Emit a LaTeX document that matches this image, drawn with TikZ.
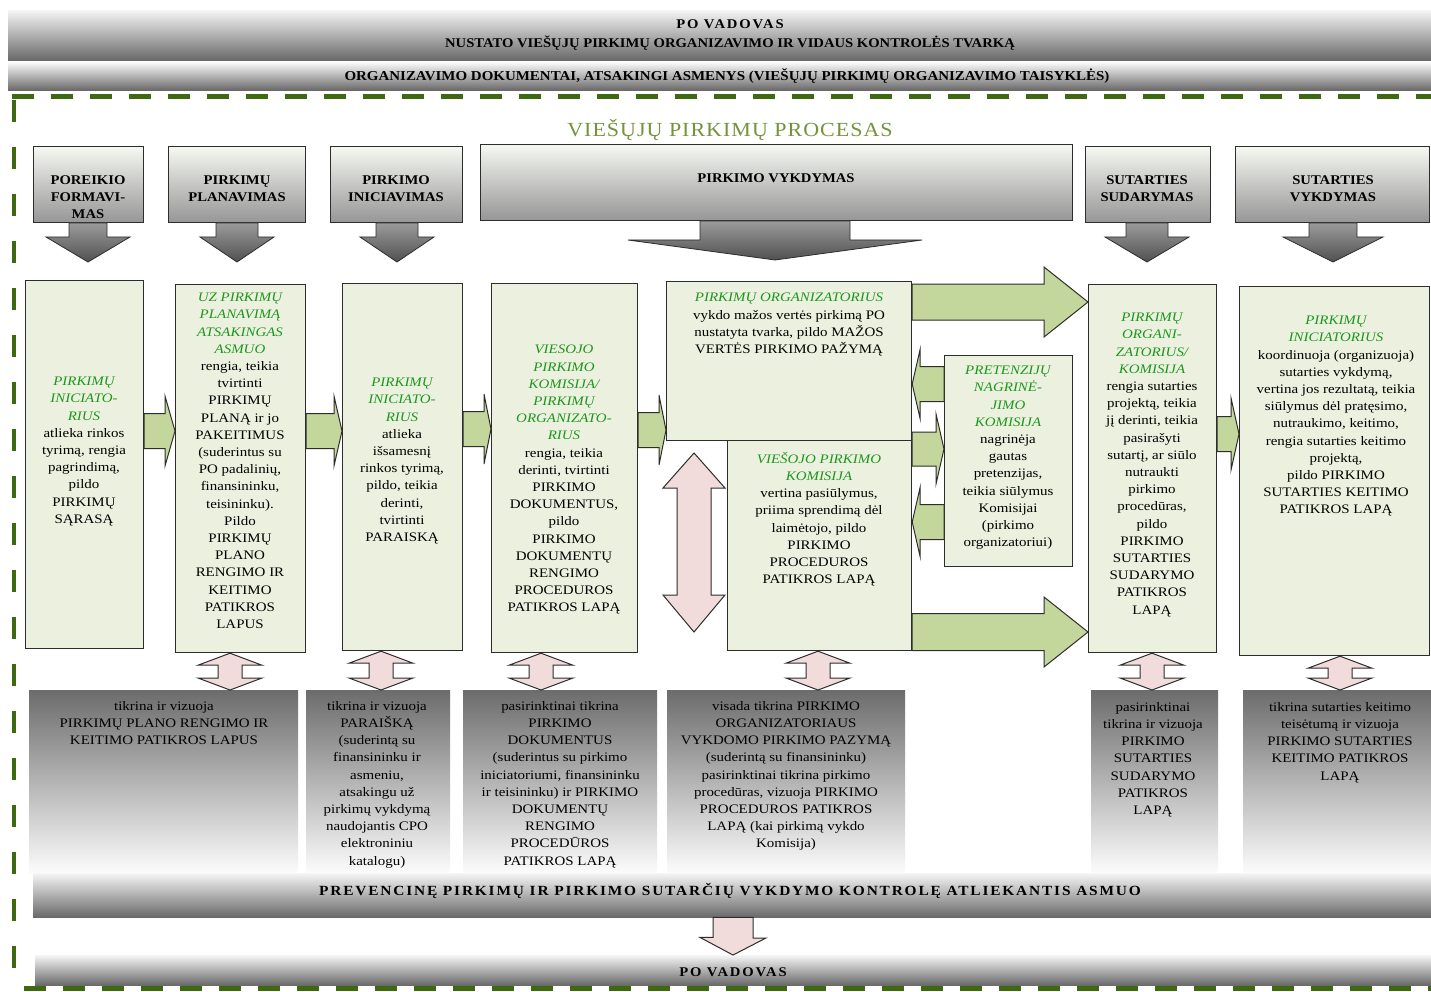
\documentclass[tikz,border=0pt]{standalone}
\usepackage{fontspec}
\setmainfont{Liberation Serif}[FakeStretch=1.1]
\newfontfamily\bodyfam{Liberation Serif}[FakeStretch=1.15]
\usetikzlibrary{calc}
\definecolor{gfill}{RGB}{235,241,222}
\definecolor{garr}{RGB}{195,214,155}
\definecolor{pfill}{RGB}{242,220,219}
\definecolor{tgreen}{RGB}{30,150,30}
\definecolor{olive}{RGB}{118,146,60}
\definecolor{dgreen}{RGB}{62,105,18}
\definecolor{edge}{RGB}{45,45,45}
\definecolor{phtop}{RGB}{246,248,242}
\definecolor{phbot}{RGB}{150,150,150}
\definecolor{datop}{RGB}{155,155,155}
\definecolor{dabot}{RGB}{80,80,80}
\definecolor{gbtop}{RGB}{108,108,108}
\definecolor{gbbot}{RGB}{252,252,252}
\definecolor{bartop}{RGB}{245,245,245}
\definecolor{barbot}{RGB}{105,105,105}
\newcommand\gr[1]{{\color{tgreen}\itshape #1}}
\newcommand\bodyf{\bodyfam\fontsize{13}{17.2}\selectfont}
\newcommand\hdrf{\fontsize{13.3}{17}\selectfont\bfseries}
% green block arrow pointing right: from, to, yc, shaft half, head half, head length
\newcommand\garR[6]{\draw[garrow] ($(#1.east|-0,#3)+(0,-#4)$) -- ($(#2.west|-0,#3)+(-#6,-#4)$) -- ($(#2.west|-0,#3)+(-#6,-#5)$) -- (#2.west|-0,#3) -- ($(#2.west|-0,#3)+(-#6,#5)$) -- ($(#2.west|-0,#3)+(-#6,#4)$) -- ($(#1.east|-0,#3)+(0,#4)$) -- cycle;}
% green block arrow pointing left: from (right node), to (left node), ...
\newcommand\garL[6]{\draw[garrow] ($(#1.west|-0,#3)+(0,-#4)$) -- ($(#2.east|-0,#3)+(#6,-#4)$) -- ($(#2.east|-0,#3)+(#6,-#5)$) -- (#2.east|-0,#3) -- ($(#2.east|-0,#3)+(#6,#5)$) -- ($(#2.east|-0,#3)+(#6,#4)$) -- ($(#1.west|-0,#3)+(0,#4)$) -- cycle;}
% pink vertical double arrow: top node, bottom node, x
\newcommand\pdar[3]{\draw[parrow] (#3,0|-#1.south) -- ++(32,12) -- ++(-20,0) -- ($(#3,0|-#2.north)+(12,-12)$) -- ++(20,0) -- (#3,0|-#2.north) -- ++(-32,-12) -- ++(20,0) -- ($(#3,0|-#1.south)+(-12,12)$) -- ++(-20,0) -- cycle;}
% gray down arrow: node, x, shaft half, head half, head top y, tip y
\newcommand\gdar[6]{\draw[darrow] ($(#2,0|-#1.south)+(-#3,0)$) -- (#2-#3,#5) -- (#2-#4,#5) -- (#2,#6) -- (#2+#4,#5) -- (#2+#3,#5) -- ($(#2,0|-#1.south)+(#3,0)$) -- cycle;}
\tikzset{
 gbox/.style={draw=edge, line width=1.2pt, fill=gfill, anchor=north west, inner sep=0pt},
 phbox/.style={draw=edge, line width=1pt, top color=phtop, bottom color=phbot, anchor=north west, inner sep=0pt},
 graybox/.style={top color=gbtop, bottom color=gbbot, anchor=north west, inner sep=0pt},
 bar/.style={top color=bartop, bottom color=barbot, anchor=north west, inner sep=0pt},
 txt/.style={inner sep=0pt, align=center, anchor=north, font=\bodyf, yshift=-4pt},
 hdr/.style={inner sep=0pt, align=center, font=\hdrf},
 garrow/.style={draw=edge, line width=1pt, fill=garr, line join=miter},
 parrow/.style={draw=edge, line width=1pt, fill=pfill, line join=miter},
 darrow/.style={draw=edge, line width=0.8pt, top color=datop, bottom color=dabot},
 dashtop/.style={draw=dgreen, line width=5pt, dash pattern=on 22pt off 17pt},
 dashleft/.style={draw=dgreen, line width=4pt, dash pattern=on 22pt off 25pt},
}
\begin{document}
\begin{tikzpicture}[x=1pt,y=-1pt]
\useasboundingbox (0,0) rectangle (1431,992);
\fill[white] (0,0) rectangle (1431,992);

% top bars
\node[bar, minimum width=1423pt, minimum height=50pt] (vad1) at (8,10) {};
\node[hdr, font=\fontsize{13.3}{19}\selectfont\bfseries] (vad1t) at (730,34.5) {{\addfontfeature{LetterSpace=14}PO VADOVAS}\\NUSTATO VIEŠŲJŲ PIRKIMŲ ORGANIZAVIMO IR VIDAUS KONTROLĖS TVARKĄ};
\node[bar, minimum width=1423pt, minimum height=27pt] (org) at (8,63) {};
\node[hdr, font=\fontsize{13.6}{17}\selectfont\bfseries] (orgt) at (727,76) {ORGANIZAVIMO DOKUMENTAI, ATSAKINGI ASMENYS (VIEŠŲJŲ PIRKIMŲ ORGANIZAVIMO TAISYKLĖS)};

% frame
\draw[dashtop] (12,97) -- (1431,97);
\draw[dashleft] (14,100) -- (14,990);
\draw[dashtop] (24,988) -- (1431,988);

% title
\node[font=\fontsize{20}{24}\selectfont\addfontfeature{LetterSpace=5}, text=olive, inner sep=0pt] (title) at (730,130) {VIEŠŲJŲ PIRKIMŲ PROCESAS};

% phase boxes
\node[phbox, minimum width=110pt, minimum height=76pt] (p1) at (33,146) {};
\node[phbox, minimum width=137pt, minimum height=76pt] (p2) at (168,146) {};
\node[phbox, minimum width=132pt, minimum height=76pt] (p3) at (330,146) {};
\node[phbox, minimum width=592pt, minimum height=76pt] (p4) at (480,144) {};
\node[phbox, minimum width=125pt, minimum height=76pt] (p5) at (1085,146) {};
\node[phbox, minimum width=194pt, minimum height=76pt] (p6) at (1235,146) {};
\node[hdr] (p1t) at (88,197) {POREIKIO\\FORMAVI-\\MAS};
\node[hdr] (p2t) at (237,189) {PIRKIMŲ\\PLANAVIMAS};
\node[hdr] (p3t) at (396,189) {PIRKIMO\\INICIAVIMAS};
\node[hdr] (p4t) at (776,178) {PIRKIMO VYKDYMAS};
\node[hdr] (p5t) at (1147,189) {SUTARTIES\\SUDARYMAS};
\node[hdr] (p6t) at (1333,189) {SUTARTIES\\VYKDYMAS};
\gdar{p1}{88}{19}{42}{237}{262}
\gdar{p2}{237}{21}{37}{237}{262}
\gdar{p3}{397}{21}{37}{237}{262}
\gdar{p4}{775}{75}{147}{240}{260}
\gdar{p5}{1147}{21}{42}{237}{262}
\gdar{p6}{1333}{24}{50}{237}{262}

% green boxes
\node[gbox, minimum width=118pt, minimum height=368pt] (b1) at (25,280) {};
\node[gbox, minimum width=130pt, minimum height=368pt] (b2) at (175,284) {};
\node[gbox, minimum width=120pt, minimum height=367pt] (b3) at (342,283) {};
\node[gbox, minimum width=146pt, minimum height=369pt] (b4) at (491,283) {};
\node[gbox, minimum width=245pt, minimum height=159pt] (b5) at (666,281) {};
\node[gbox, minimum width=184pt, minimum height=210pt] (b6) at (727,440) {};
\node[gbox, minimum width=128pt, minimum height=211pt] (b7) at (944,355) {};
\node[gbox, minimum width=128pt, minimum height=368pt] (b8) at (1088,284) {};
\node[gbox, minimum width=190pt, minimum height=369pt] (b9) at (1239,286) {};

\node[txt] (t1) at (84,373) {\gr{PIRKIMŲ}\\\gr{INICIATO-}\\\gr{RIUS}\\atlieka rinkos\\tyrimą, rengia\\pagrindimą,\\pildo\\PIRKIMŲ\\SĄRASĄ};
\node[txt] (t2) at (240,289) {\gr{UZ PIRKIMŲ}\\\gr{PLANAVIMĄ}\\\gr{ATSAKINGAS}\\\gr{ASMUO}\\rengia, teikia\\tvirtinti\\PIRKIMŲ\\PLANĄ ir jo\\PAKEITIMUS\\(suderintus su\\PO padalinių,\\finansininku,\\teisininku).\\Pildo\\PIRKIMŲ\\PLANO\\RENGIMO IR\\KEITIMO\\PATIKROS\\LAPUS};
\node[txt] (t3) at (402,374) {\gr{PIRKIMŲ}\\\gr{INICIATO-}\\\gr{RIUS}\\atlieka\\išsamesnį\\rinkos tyrimą,\\pildo, teikia\\derinti,\\tvirtinti\\PARAISKĄ};
\node[txt] (t4) at (564,341) {\gr{VIESOJO}\\\gr{PIRKIMO}\\\gr{KOMISIJA/}\\\gr{PIRKIMŲ}\\\gr{ORGANIZATO-}\\\gr{RIUS}\\rengia, teikia\\derinti, tvirtinti\\PIRKIMO\\DOKUMENTUS,\\pildo\\PIRKIMO\\DOKUMENTŲ\\RENGIMO\\PROCEDUROS\\PATIKROS LAPĄ};
\node[txt] (t5) at (789,289) {\gr{PIRKIMŲ ORGANIZATORIUS}\\vykdo mažos vertės pirkimą PO\\nustatyta tvarka, pildo MAŽOS\\VERTĖS PIRKIMO PAŽYMĄ};
\node[txt] (t6) at (819,448) {\gr{VIEŠOJO PIRKIMO}\\\gr{KOMISIJA}\\vertina pasiūlymus,\\priima sprendimą dėl\\laimėtojo, pildo\\PIRKIMO\\PROCEDUROS\\PATIKROS LAPĄ};
\node[txt] (t7) at (1008,362) {\gr{PRETENZIJŲ}\\\gr{NAGRINĖ-}\\\gr{JIMO}\\\gr{KOMISIJA}\\nagrinėja\\gautas\\pretenzijas,\\teikia siūlymus\\Komisijai\\(pirkimo\\organizatoriui)};
\node[txt] (t8) at (1152,309) {\gr{PIRKIMŲ}\\\gr{ORGANI-}\\\gr{ZATORIUS/}\\\gr{KOMISIJA}\\rengia sutarties\\projektą, teikia\\jį derinti, teikia\\pasirašyti\\sutartį, ar siūlo\\nutraukti\\pirkimo\\procedūras,\\pildo\\PIRKIMO\\SUTARTIES\\SUDARYMO\\PATIKROS\\LAPĄ};
\node[txt] (t9) at (1336,312) {\gr{PIRKIMŲ}\\\gr{INICIATORIUS}\\koordinuoja (organizuoja)\\sutarties vykdymą,\\vertina jos rezultatą, teikia\\siūlymus dėl pratęsimo,\\nutraukimo, keitimo,\\rengia sutarties keitimo\\projektą,\\pildo PIRKIMO\\SUTARTIES KEITIMO\\PATIKROS LAPĄ};

% green arrows
\garR{b1}{b2}{431}{17.5}{35}{10}
\garR{b2}{b3}{431}{17.5}{35}{8}
\garR{b3}{b4}{429}{17.5}{35}{7}
\garR{b4}{b5}{430}{17.5}{35}{7}
\garR{b5}{b8}{302}{18}{35}{44}
\garR{b6}{b8}{632}{18.5}{35}{44}
\garR{b8}{b9}{434}{17.5}{36}{8}
\garL{b7}{b5}{384}{17.5}{35}{8}
\garR{b6}{b7}{449}{17}{35}{8}
\garL{b7}{b6}{522}{17.5}{35}{8}

% big pink double arrow left of commission
\draw[parrow] (694,453) -- (725,488) -- (711,488) -- (711,595) -- (725,595) -- (694,632) -- (663,595) -- (677,595) -- (677,488) -- (663,488) -- cycle;

% gray control boxes
\node[graybox, minimum width=269pt, minimum height=183pt] (g1) at (29,690) {};
\node[graybox, minimum width=144pt, minimum height=183pt] (g2) at (306,690) {};
\node[graybox, minimum width=194pt, minimum height=183pt] (g3) at (463,690) {};
\node[graybox, minimum width=238pt, minimum height=183pt] (g4) at (667,690) {};
\node[graybox, minimum width=127pt, minimum height=183pt] (g5) at (1091,690) {};
\node[graybox, minimum width=188pt, minimum height=183pt] (g6) at (1243,690) {};

\node[txt] (s1) at (164,697) {tikrina ir vizuoja\\PIRKIMŲ PLANO RENGIMO IR\\KEITIMO PATIKROS LAPUS};
\node[txt] (s2) at (377,697) {tikrina ir vizuoja\\PARAIŠKĄ\\(suderintą su\\finansininku ir\\asmeniu,\\atsakingu už\\pirkimų vykdymą\\naudojantis CPO\\elektroniniu\\katalogu)};
\node[txt] (s3) at (560,697) {pasirinktinai tikrina\\PIRKIMO\\DOKUMENTUS\\(suderintus su pirkimo\\iniciatoriumi, finansininku\\ir teisininku) ir PIRKIMO\\DOKUMENTŲ\\RENGIMO\\PROCEDŪROS\\PATIKROS LAPĄ};
\node[txt] (s4) at (786,697) {visada tikrina PIRKIMO\\ORGANIZATORIAUS\\VYKDOMO PIRKIMO PAZYMĄ\\(suderintą su finansininku)\\pasirinktinai tikrina pirkimo\\procedūras, vizuoja PIRKIMO\\PROCEDUROS PATIKROS\\LAPĄ (kai pirkimą vykdo\\Komisija)};
\node[txt] (s5) at (1153,698) {pasirinktinai\\tikrina ir vizuoja\\PIRKIMO\\SUTARTIES\\SUDARYMO\\PATIKROS\\LAPĄ};
\node[txt] (s6) at (1340,698) {tikrina sutarties keitimo\\teisėtumą ir vizuoja\\PIRKIMO SUTARTIES\\KEITIMO PATIKROS\\LAPĄ};

% pink double arrows
\pdar{b2}{g1}{230}
\pdar{b3}{g2}{381}
\pdar{b4}{g3}{541}
\pdar{b6}{g4}{818}
\pdar{b8}{g5}{1152}
\pdar{b9}{g6}{1340}

% bottom bars
\node[bar, minimum width=1398pt, minimum height=44pt] (prev) at (33,873) {};
\node[hdr, font=\fontsize{14}{17}\selectfont\bfseries\addfontfeature{LetterSpace=13}] (prevt) at (730,891) {PREVENCINĘ PIRKIMŲ IR PIRKIMO SUTARČIŲ VYKDYMO KONTROLĘ ATLIEKANTIS ASMUO};
\node[bar, minimum width=1396pt, minimum height=30pt] (vad2) at (35,955) {};
\node[hdr, font=\hdrf\addfontfeature{LetterSpace=14}] (vad2t) at (733,972) {PO VADOVAS};
\draw[parrow] ($(733,0|-prev.south)+(-20,0)$) -- ++(0,20) -- ++(-13,0) -- (733,0|-vad2.north) -- ++(33,-17) -- ++(-13,0) -- ($(733,0|-prev.south)+(20,0)$) -- cycle;
\end{tikzpicture}
\end{document}
